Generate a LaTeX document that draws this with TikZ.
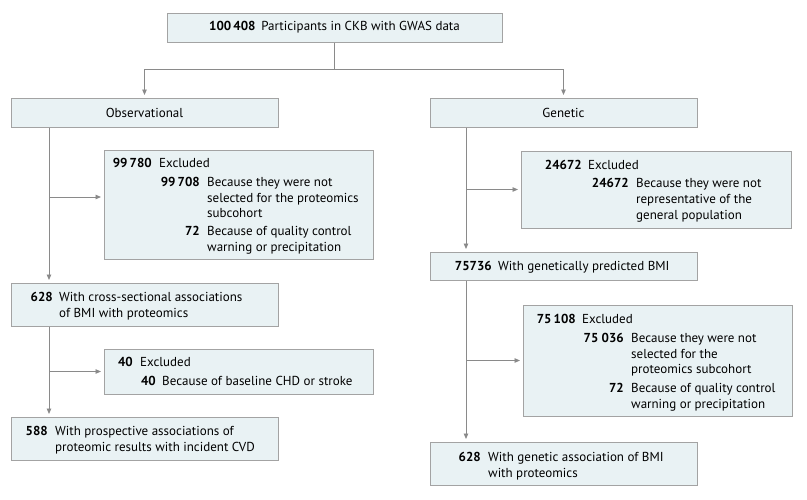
\documentclass[tikz,border=0pt]{standalone}
\usepackage{fontspec}
\setmainfont{PT Sans}
\usetikzlibrary{arrows.meta}
\definecolor{boxfill}{HTML}{E9F2F4}
\definecolor{boxline}{HTML}{A3A3A3}
\definecolor{arr}{HTML}{8A8A8A}
\newcommand\lines[1]{\begin{tabular}[t]{@{}l@{}}#1\end{tabular}}
\newcommand\fs{\fontsize{13}{15.8}\selectfont}
\tikzset{
  box/.style={draw=boxline, fill=boxfill, line width=1pt, inner sep=0pt, font=\fs},
  num/.style={anchor=base east, inner sep=0pt, font=\fs\bfseries},
  txt/.style={anchor=base west, inner sep=0pt, font=\fs},
  conn/.style={draw=arr, line width=0.9pt},
  arrow/.style={conn, -{Triangle[length=5.5pt,width=4.5pt]}, shorten >=2.5pt},
}
\begin{document}
\begin{tikzpicture}[x=1pt,y=-1pt]
\path[use as bounding box, fill=white] (0,0) rectangle (807,499);
% boxes
\node[box, minimum width=335pt, minimum height=29pt] (top) at (334.5,27.5) {\textbf{100\,408}\hspace{0.45em}Participants in CKB with GWAS data};
\node[box, minimum width=267pt, minimum height=29pt] (obs) at (144.5,112.5) {Observational};
\node[box, minimum width=267pt, minimum height=29pt] (gen) at (563.5,112.5) {Genetic};
\node[box, minimum width=269pt, minimum height=109pt] (ex1) at (238.5,204.5) {};
\node[box, minimum width=267pt, minimum height=43pt] (c628) at (144.5,304.5) {};
\node[box, minimum width=269pt, minimum height=45pt] (ex40) at (238.5,371.5) {};
\node[box, minimum width=267pt, minimum height=43pt] (b588) at (144.5,438.5) {};
\node[box, minimum width=270pt, minimum height=77pt] (ex2) at (656,189.5) {};
\node[box, minimum width=267pt, minimum height=28pt] (b757) at (563.5,266) {};
\node[box, minimum width=269pt, minimum height=111pt] (ex3) at (657.5,360.5) {};
\node[box, minimum width=267pt, minimum height=43pt] (g628) at (563.5,463.5) {};
% texts
\node[num] (n1) at (152,167.8) {99\,780};
\node[txt] (t1) at (159,167.8) {Excluded};
\node[num] (n1a) at (200,186.2) {99\,708};
\node[txt] (t1a) at (207,186.2) {\lines{Because they were not\\selected for the proteomics\\subcohort}};
\node[num] (n1b) at (200,235.2) {72};
\node[txt] (t1b) at (207,235.2) {\lines{Because of quality control\\warning or precipitation}};
\node[num] (n2) at (53,301.2) {628};
\node[txt] (t2) at (59,301.2) {\lines{With cross-sectional associations\\of BMI with proteomics}};
\node[num] (n3) at (133,366.8) {40};
\node[txt] (t3) at (140,366.8) {Excluded};
\node[num] (n3a) at (156,385.2) {40};
\node[txt] (t3a) at (162,385.2) {Because of baseline CHD or stroke};
\node[num] (n4) at (48,435.2) {588};
\node[txt] (t4) at (55,435.2) {\lines{With prospective associations of\\proteomic results with incident CVD}};
\node[num] (n5) at (582,169.5) {24672};
\node[txt] (t5) at (588,169.5) {Excluded};
\node[num] (n5a) at (629,187.5) {24672};
\node[txt] (t5a) at (636,187.5) {\lines{Because they were not\\representative of the\\general population}};
\node[num] (n6) at (492,270.5) {75736};
\node[txt] (t6) at (498,270.5) {With genetically predicted BMI};
\node[num] (n7) at (576,323.8) {75\,108};
\node[txt] (t7) at (582,323.8) {Excluded};
\node[num] (n7a) at (624,342.2) {75~036};
\node[txt] (t7a) at (631,342.2) {\lines{Because they were not\\selected for the\\proteomics subcohort}};
\node[num] (n7b) at (624,392.2) {72};
\node[txt] (t7b) at (631,392.2) {\lines{Because of quality control\\warning or precipitation}};
\node[num] (n8) at (481,461.2) {628};
\node[txt] (t8) at (488,461.2) {\lines{With genetic association of BMI\\with proteomics}};
% connectors
\coordinate (j) at (334.5,69);
\draw[conn] (top.south) -- (j);
\draw[arrow] (j) -| (obs.north);
\draw[arrow] (j) -| (gen.north);
\coordinate (ox) at (49,0);
\coordinate (gx) at (466,0);
\draw[arrow] (ox |- obs.south) -- (ox |- c628.north);
\draw[arrow] (ox |- c628.south) -- (ox |- b588.north);
\draw[arrow] (gx |- gen.south) -- (gx |- b757.north);
\draw[arrow] (gx |- b757.south) -- (gx |- g628.north);
\coordinate (b1) at (49,197);
\draw[arrow] (b1) -- (b1 -| ex1.west);
\coordinate (b2) at (49,371.5);
\draw[arrow] (b2) -- (b2 -| ex40.west);
\coordinate (b3) at (466,189.5);
\draw[arrow] (b3) -- (b3 -| ex2.west);
\coordinate (b4) at (466,360.5);
\draw[arrow] (b4) -- (b4 -| ex3.west);
\end{tikzpicture}
\end{document}
